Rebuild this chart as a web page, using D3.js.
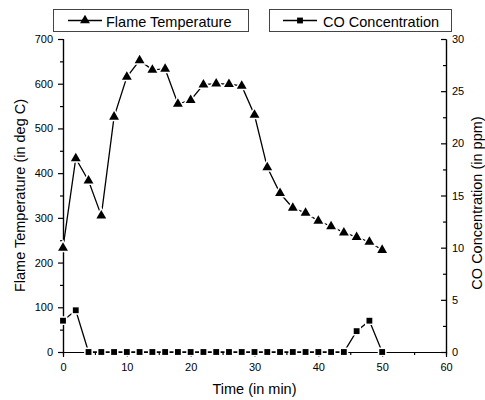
<!DOCTYPE html>
<html>
<head>
<meta charset="utf-8">
<script src="https://cdn.jsdelivr.net/npm/d3@7"></script>
<style>
	body { margin: 0; background: #fff; }
	text { font-family: "Liberation Sans", Arial, sans-serif; fill: #000; }
</style>
</head>
<body>
<svg width="485" height="400"></svg>
<script>
let time = [0, 2, 4, 6, 8, 10, 12, 14, 16, 18, 20, 22, 24, 26, 28, 30, 32, 34, 36, 38, 40, 42, 44, 46, 48, 50];
let flameTemp = [233, 433, 383, 305, 526, 615, 652, 631, 633, 555, 563, 598, 600, 599, 595, 530, 413, 355, 322, 311, 293, 281, 267, 257, 246, 228];
let coConc = [3, 4, 0, 0, 0, 0, 0, 0, 0, 0, 0, 0, 0, 0, 0, 0, 0, 0, 0, 0, 0, 0, 0, 2, 3, 0];

let timeTicks = [0, 10, 20, 30, 40, 50, 60];
let timeMinor = [5, 15, 25, 35, 45, 55];
let tempTicks = [0, 100, 200, 300, 400, 500, 600, 700];
let tempMinor = [50, 150, 250, 350, 450, 550, 650];
let coTicks = [0, 5, 10, 15, 20, 25, 30];
let coMinor = [2.5, 7.5, 12.5, 17.5, 22.5, 27.5];

let svg = d3.select('svg');
let margin = { top: 39, right: 39, bottom: 48, left: 63 };
let width = +svg.attr('width') - margin.left - margin.right;
let height = +svg.attr('height') - margin.top - margin.bottom;

let chart = svg.append('g')
	.attr('transform', 'translate(' + margin.left + ', ' + margin.top + ')');

let x = d3.scaleLinear().domain([0, 60]).range([0, width]);
let yT = d3.scaleLinear().domain([0, 700]).range([height, 0]);
let yC = d3.scaleLinear().domain([0, 30]).range([height, 0]);

function styleAxis(g) {
	g.select('.domain').attr('stroke', '#000').attr('stroke-width', 1.2);
	g.selectAll('.tick line').attr('stroke', '#000').attr('stroke-width', 1.2);
	g.selectAll('.tick text').style('font-size', '11px').attr('fill', '#000');
}

// minor ticks first
chart.append('g')
	.attr('transform', 'translate(0, ' + height + ')')
	.call(d3.axisBottom(x).tickValues(timeMinor).tickSize(3).tickFormat(''))
	.call(styleAxis);
chart.append('g')
	.call(d3.axisLeft(yT).tickValues(tempMinor).tickSize(3).tickFormat(''))
	.call(styleAxis);
chart.append('g')
	.attr('transform', 'translate(' + width + ', 0)')
	.call(d3.axisRight(yC).tickValues(coMinor).tickSizeInner(-3).tickSizeOuter(0).tickFormat(''))
	.call(styleAxis);

chart.append('g')
	.attr('transform', 'translate(0, ' + height + ')')
	.call(d3.axisBottom(x).tickValues(timeTicks).tickSizeInner(5).tickSizeOuter(0).tickPadding(6))
	.call(styleAxis);

chart.append('g')
	.call(d3.axisLeft(yT).tickValues(tempTicks).tickSizeInner(5).tickSizeOuter(0).tickPadding(5))
	.call(styleAxis);

chart.append('g')
	.attr('transform', 'translate(' + width + ', 0)')
	.call(d3.axisRight(yC).tickValues(coTicks).tickSizeInner(-5).tickSizeOuter(0).tickPadding(6))
	.call(styleAxis);

// axis titles
svg.append('text')
	.attr('x', margin.left + width / 2)
	.attr('y', 394)
	.attr('text-anchor', 'middle')
	.style('font-size', '14.5px')
	.text('Time (in min)');

svg.append('text')
	.attr('transform', 'translate(25, ' + (margin.top + height / 2) + ') rotate(-90)')
	.attr('text-anchor', 'middle')
	.style('font-size', '14.5px')
	.text('Flame Temperature (in deg C)');

svg.append('text')
	.attr('transform', 'translate(482, 203) rotate(-90)')
	.attr('text-anchor', 'middle')
	.style('font-size', '14.5px')
	.text('CO Concentration (in ppm)');

// series
let tempData = time.map((t, i) => ({ t: t, v: flameTemp[i] }));
let coData = time.map((t, i) => ({ t: t, v: coConc[i] }));

let tempLine = d3.line().x(d => x(d.t)).y(d => yT(d.v));
let coLine = d3.line().x(d => x(d.t)).y(d => yC(d.v));

let triangle = d3.symbol().type(d3.symbolTriangle).size(42);
let square = d3.symbol().type(d3.symbolSquare).size(34);

chart.append('path')
	.datum(tempData)
	.attr('fill', 'none')
	.attr('stroke', '#000')
	.attr('stroke-width', 1.3)
	.attr('d', tempLine);

chart.append('path')
	.datum(coData)
	.attr('fill', 'none')
	.attr('stroke', '#000')
	.attr('stroke-width', 1.3)
	.attr('d', coLine);

chart.selectAll('.tempdots')
	.data(tempData)
	.enter()
	.append('path')
	.attr('class', 'tempdots')
	.attr('d', triangle)
	.attr('transform', d => 'translate(' + x(d.t) + ', ' + yT(d.v) + ')')
	.attr('fill', '#000')
	.attr('stroke', '#fff')
	.attr('stroke-width', 3)
	.style('paint-order', 'stroke');

chart.selectAll('.codots')
	.data(coData)
	.enter()
	.append('path')
	.attr('class', 'codots')
	.attr('d', square)
	.attr('transform', d => 'translate(' + x(d.t) + ', ' + yC(d.v) + ')')
	.attr('fill', '#000')
	.attr('stroke', '#fff')
	.attr('stroke-width', 3)
	.style('paint-order', 'stroke');

// legend
let legend = [
	{ name: 'Flame Temperature', sym: triangle, box: [53, 248], line: [68, 102], tx: 106 },
	{ name: 'CO Concentration', sym: square, box: [269, 451], line: [283, 317], tx: 323 }
];

legend.forEach(l => {
	let g = svg.append('g');
	g.append('rect')
		.attr('x', l.box[0] + 0.5)
		.attr('y', 9.5)
		.attr('width', l.box[1] - l.box[0])
		.attr('height', 22)
		.attr('fill', '#fff')
		.attr('stroke', '#444')
		.attr('stroke-width', 1);
	g.append('line')
		.attr('x1', l.line[0]).attr('x2', l.line[1])
		.attr('y1', 20.5).attr('y2', 20.5)
		.attr('stroke', '#000')
		.attr('stroke-width', 1.3);
	g.append('path')
		.attr('d', l.sym)
		.attr('transform', 'translate(' + (l.line[0] + l.line[1]) / 2 + ', 20.5)')
		.attr('fill', '#000');
	g.append('text')
		.attr('x', l.tx)
		.attr('y', 26.5)
		.style('font-size', '14.5px')
		.text(l.name);
});
</script>
</body>
</html>
